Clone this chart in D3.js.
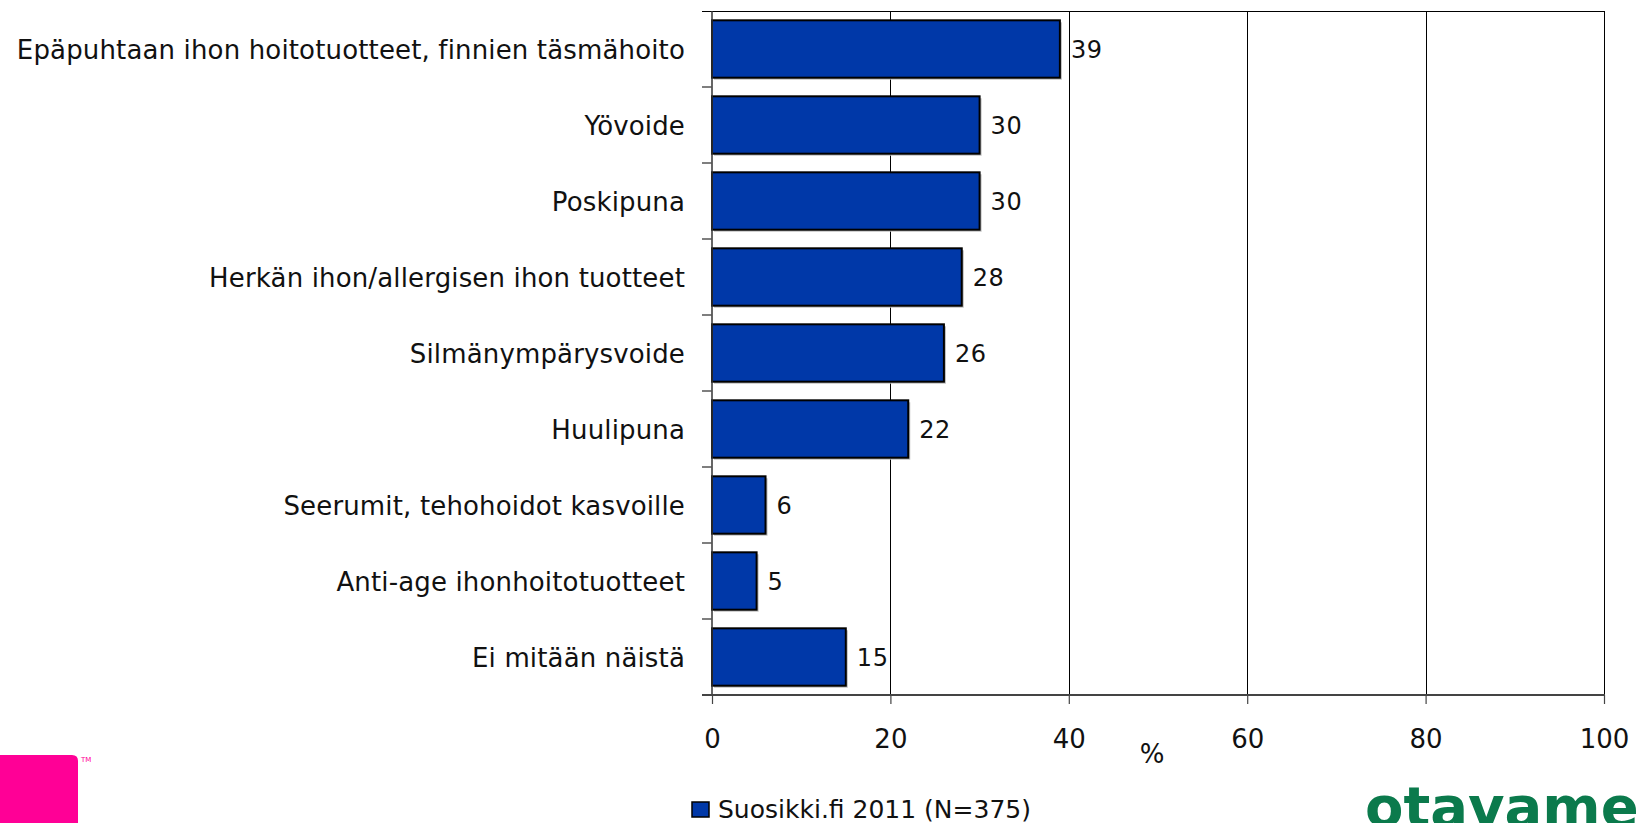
<!DOCTYPE html>
<html>
<head>
<meta charset="utf-8">
<script src="https://cdn.jsdelivr.net/npm/d3@7"></script>
<style>
  html, body { margin: 0; padding: 0; background: #fff; }
  svg { display: block; }
  text { font-family: "DejaVu Sans", Verdana, sans-serif; fill: #111; }
</style>
</head>
<body>
<div id="chart"></div>
<script>
// data
const categories = [
    "Epäpuhtaan ihon hoitotuotteet, finnien täsmähoito",
    "Yövoide",
    "Poskipuna",
    "Herkän ihon/allergisen ihon tuotteet",
    "Silmänympärysvoide",
    "Huulipuna",
    "Seerumit, tehohoidot kasvoille",
    "Anti-age ihonhoitotuotteet",
    "Ei mitään näistä"
];
const values = [39, 30, 30, 28, 26, 22, 6, 5, 15];
const xTicks = [0, 20, 40, 60, 80, 100];
const seriesName = "Suosikki.fi 2011 (N=375)";

const W = 1636, H = 823;
const plot = { left: 712, right: 1604, top: 11, bottom: 695 };

const svg = d3.select("#chart").append("svg")
    .attr("width", W)
    .attr("height", H);

const x = d3.scaleLinear().domain([0, 100]).range([plot.left, plot.right]);
const y = d3.scaleBand().domain(categories).range([plot.top, plot.bottom])
    .paddingInner(0.245).paddingOuter(0.1225);

// vertical gridlines
svg.append("g")
    .attr("shape-rendering", "crispEdges")
    .selectAll("line")
    .data(xTicks.slice(1))
    .join("line")
    .attr("x1", d => Math.round(x(d)) + 0.5).attr("x2", d => Math.round(x(d)) + 0.5)
    .attr("y1", plot.top).attr("y2", plot.bottom)
    .attr("stroke", "#000")
    .attr("stroke-width", 1);

// top border
svg.append("line")
    .attr("shape-rendering", "crispEdges")
    .attr("x1", plot.left - 10).attr("x2", plot.right + 1)
    .attr("y1", plot.top + 0.5).attr("y2", plot.top + 0.5)
    .attr("stroke", "#000");

// bars (with faint shadow)
svg.append("g")
    .selectAll("rect")
    .data(values)
    .join("rect")
    .attr("x", x(0) + 2)
    .attr("y", (d, i) => y(categories[i]) + 2)
    .attr("width", d => x(d) - x(0))
    .attr("height", y.bandwidth())
    .attr("fill", "#bdbdbd");

svg.append("g")
    .selectAll("rect")
    .data(values)
    .join("rect")
    .attr("x", x(0))
    .attr("y", (d, i) => y(categories[i]))
    .attr("width", d => x(d) - x(0))
    .attr("height", y.bandwidth())
    .attr("fill", "#0038a8")
    .attr("stroke", "#000")
    .attr("stroke-width", 2);

// value labels
svg.append("g")
    .selectAll("text")
    .data(values)
    .join("text")
    .attr("x", d => x(d) + 11)
    .attr("y", (d, i) => y(categories[i]) + y.bandwidth() / 2)
    .attr("dy", "0.36em")
    .attr("font-size", 24)
    .attr("letter-spacing", 0.6)
    .text(d => d);

// left axis: labels
const yAxis = svg.append("g")
    .attr("transform", `translate(${plot.left},0)`)
    .call(d3.axisLeft(y).tickSize(0).tickPadding(27));
yAxis.select(".domain").remove();
yAxis.selectAll("text")
    .attr("font-family", "DejaVu Sans")
    .attr("font-size", 26)
    .attr("letter-spacing", 0.15)
    .attr("dy", "0.38em")
    .attr("fill", "#111");

// left axis line and ticks between bands
svg.append("line")
    .attr("x1", plot.left).attr("x2", plot.left)
    .attr("y1", plot.top).attr("y2", plot.bottom)
    .attr("stroke", "#333").attr("stroke-width", 1.5);
const bounds = categories.map(c => y(c) - y.step() * y.paddingInner() / 2).slice(1);
svg.append("g")
    .selectAll("line")
    .data(bounds)
    .join("line")
    .attr("x1", plot.left - 10).attr("x2", plot.left)
    .attr("y1", d => d).attr("y2", d => d)
    .attr("stroke", "#555").attr("stroke-width", 1.5);

// bottom axis
const xAxis = svg.append("g")
    .attr("transform", `translate(0,${plot.bottom})`)
    .call(d3.axisBottom(x).tickValues(xTicks).tickSize(9).tickPadding(26));
xAxis.select(".domain").remove();
xAxis.selectAll(".tick line").attr("stroke", "#444").attr("stroke-width", 1.2);
xAxis.selectAll("text")
    .attr("font-family", "DejaVu Sans")
    .attr("font-size", 26)
    .attr("fill", "#111");
svg.append("line")
    .attr("x1", plot.left - 10).attr("x2", plot.right + 1)
    .attr("y1", plot.bottom).attr("y2", plot.bottom)
    .attr("stroke", "#444").attr("stroke-width", 2);

// axis unit
svg.append("text")
    .attr("x", 1152).attr("y", 763)
    .attr("text-anchor", "middle")
    .attr("font-size", 26)
    .text("%");

// legend
svg.append("rect")
    .attr("x", 692).attr("y", 802)
    .attr("width", 17).attr("height", 15)
    .attr("fill", "#0038a8").attr("stroke", "#000").attr("stroke-width", 1.5);
svg.append("text")
    .attr("x", 718).attr("y", 818)
    .attr("font-size", 25)
    .text(seriesName);

// logos (cut off at the bottom edge, as in the source slide)
svg.append("path")
    .attr("d", "M0,755 H72 Q78,755 78,761 V823 H0 Z")
    .attr("fill", "#ff0096");
svg.append("text")
    .attr("x", 81).attr("y", 762)
    .attr("font-size", 7)
    .style("fill", "#ff0096")
    .text("TM");

svg.append("text")
    .attr("x", 1365).attr("y", 826)
    .attr("font-family", "Lato, 'Open Sans', sans-serif")
    .attr("font-size", 56)
    .attr("font-weight", 700)
    .style("fill", "#0b7a4c")
    .text("otavamedia");
</script>
</body>
</html>
